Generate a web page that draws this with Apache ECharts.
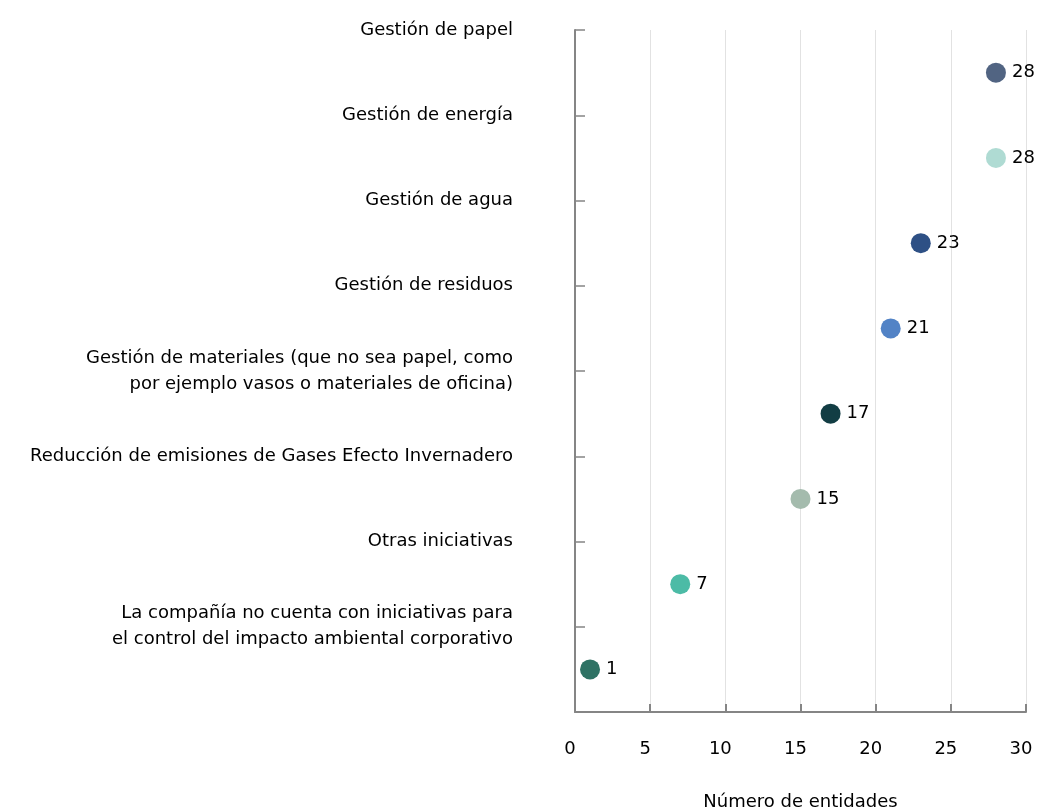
<!DOCTYPE html>
<html>
<head>
<meta charset="utf-8">
<script src="https://cdn.jsdelivr.net/npm/echarts@6/dist/echarts.min.js"></script>
<style>
  html, body { margin: 0; padding: 0; background: #fff; }
  #chart { width: 1038px; height: 812px; }
</style>
</head>
<body>
<div id="chart"></div>
<script>
// categorías de arriba a abajo
const categories = [
  'Gestión de papel',
  'Gestión de energía',
  'Gestión de agua',
  'Gestión de residuos',
  'Gestión de materiales (que no sea papel, como\npor ejemplo vasos o materiales de oficina)',
  'Reducción de emisiones de Gases Efecto Invernadero',
  'Otras iniciativas',
  'La compañía no cuenta con iniciativas para\nel control del impacto ambiental corporativo',
]
const values = [28, 28, 23, 21, 17, 15, 7, 1]
const colors = ['#516482', '#afdbd3', '#2e5085', '#5283c6', '#123d44', '#a4bbad', '#4cbba6', '#2e7264']
const xTicks = [0, 5, 10, 15, 20, 25, 30]

const FONT = 'DejaVu Sans'
const FS = 18
const n = categories.length

// cada punto va en el centro de su banda; la etiqueta en el borde superior
const points = values.map((v, i) => ({
  value: [v, n - i - 0.5],
  itemStyle: { color: colors[i], opacity: 1 },
}))

const chart = echarts.init(document.getElementById('chart'))
chart.setOption({
  animation: false,
  textStyle: { fontFamily: FONT },
  grid: { left: 575, right: 12, top: 30, bottom: 100, outerBoundsMode: 'none' },
  xAxis: {
    type: 'value',
    min: xTicks[0],
    max: xTicks[xTicks.length - 1],
    interval: 5,
    name: 'Número de entidades',
    nameLocation: 'middle',
    nameGap: 81,
    nameTextStyle: { fontSize: FS, color: '#000', fontFamily: FONT },
    axisLine: { show: true, lineStyle: { color: '#858585', width: 2 } },
    axisTick: { show: true, inside: true, length: 8, lineStyle: { color: '#858585', width: 2 } },
    axisLabel: { margin: 28, fontSize: FS, color: '#000', padding: [0, 10, 0, 0], fontFamily: FONT },
    splitLine: { show: true, lineStyle: { color: '#e2e2e2', width: 1 } },
  },
  yAxis: {
    type: 'value',
    min: 0,
    max: n,
    interval: 1,
    axisLine: { show: true, lineStyle: { color: '#858585', width: 2 } },
    axisTick: { show: true, inside: true, length: 10, lineStyle: { color: '#858585', width: 1.5 } },
    axisLabel: {
      margin: 62,
      fontSize: FS,
      lineHeight: 26,
      color: '#000',
      align: 'right',
      padding: [0, 0, 6, 0],
      fontFamily: FONT,
      formatter: (v) => (v >= 1 ? categories[n - v] : ''),
    },
    splitLine: { show: false },
  },
  series: [
    {
      type: 'scatter',
      data: points,
      symbolSize: 20,
      label: {
        show: true,
        position: 'right',
        distance: 6,
        fontSize: FS,
        color: '#000',
        fontFamily: FONT,
        formatter: (p) => p.value[0],
      },
    },
  ],
})
</script>
</body>
</html>
